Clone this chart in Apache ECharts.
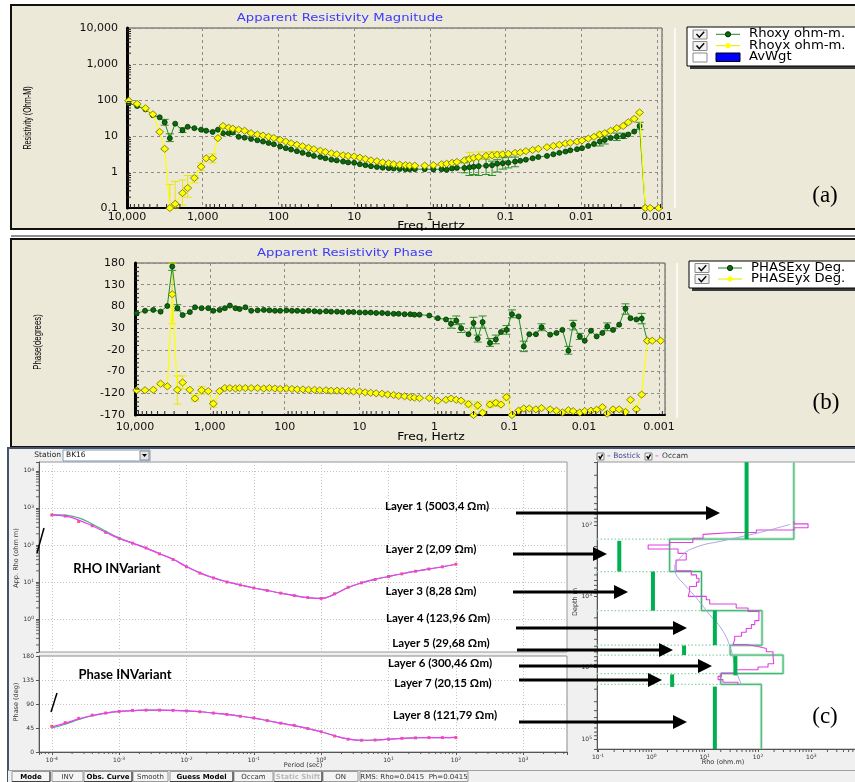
<!DOCTYPE html>
<html>
<head>
<meta charset="UTF-8">
<title>BK16 - apparent resistivity, phase and 1D inversion</title>
<script src="https://cdn.jsdelivr.net/npm/echarts@6/dist/echarts.min.js"></script>
</head>
<body style="margin: 0; background: #fff">
<div id="main" style="width: 855px; height: 782px"></div>
<script>
// ---- (a) / (b) field curves, frequency in Hz ----
var freqHz = [9500, 7350, 5700, 4550, 3700, 3180, 2720, 2310, 1850, 1580, 1290, 1050, 900, 740, 630, 540, 455, 400, 335, 280,
  230, 190, 160, 135, 115, 95, 80, 68, 57, 48, 40, 34, 28, 24, 20, 17, 14, 12, 10, 8.4, 7.1, 6.0, 5.0, 4.2, 3.5, 3.0, 2.5, 2.1, 1.85,
  1.58, 1.17, 0.90, 0.70, 0.60, 0.51, 0.44, 0.35, 0.30, 0.264, 0.227, 0.181, 0.151, 0.129, 0.109, 0.092, 0.075, 0.064, 0.054, 0.044,
  0.037, 0.0284, 0.0234, 0.0195, 0.0162, 0.0140, 0.0114, 0.0098, 0.0081, 0.0068, 0.0057, 0.0049, 0.0041, 0.0034, 0.0028, 0.0024,
  0.0020, 0.0017, 0.00143, 0.00123, 0.00095];

var rhoXY = [81, 68, 55, 38, 33, 24, 8.7, 22, 14.5, 18, 16.5, 15, 14, 13, 15, 12, 12, 12.5, 9.5, 9,
  8.3, 7.6, 7.0, 6.4, 5.9, 5.1, 4.6, 4.2, 3.8, 3.4, 3.1, 2.8, 2.6, 2.4, 2.2, 2.1, 1.95, 1.85, 1.8, 1.65, 1.55, 1.45, 1.38, 1.32, 1.28, 1.25, 1.22, 1.2, 1.2,
  1.2, 1.2, 1.18, 1.2, 1.15, 1.25, 1.3, 1.3, 1.35, 1.4, 1.45, 1.5, 1.55, 1.7, 1.75, 1.8, 1.95, 2.05, 2.2, 2.4,
  2.6, 2.8, 3.1, 3.4, 3.7, 4.0, 4.3, 4.6, 5.3, 6.0, 7.0, 7.8, 8.8, 9.5, 10, 11, 13.3, 19, 0.1, null, null];

var rhoYX = [96, 78, 59, 40, 13, 4.4, 0.1, 0.13, 0.26, 0.36, 0.68, 1.4, 2.4, 2.4, 8.7, 19, 17, 16, 15, 14,
  12, 11, 10.3, 9.5, 8.8, 7.8, 7.0, 6.3, 5.7, 5.2, 4.7, 4.3, 3.9, 3.6, 3.3, 3.1, 2.9, 2.8, 2.7, 2.5, 2.3, 2.1, 2.0, 1.85, 1.75, 1.65, 1.6, 1.55, 1.5,
  1.5, 1.5, 1.55, 1.65, 1.7, 1.8, 1.9, 2.1, 2.3, 2.5, 2.6, 2.8, 2.9, 3.0, 3.1, 3.2, 3.4, 3.5, 3.8, 4.1,
  4.4, 4.9, 5.3, 5.7, 6.2, 6.5, 7.0, 7.5, 8.5, 9.5, 11, 12, 14, 16.5, 19, 24, 30, 45, 0.1, 0.1, 0.1];

var phaseXY = [64, 70, 72, 68, 81, 172, 76, 60, 67, 78, 76, 76, 70, 72, 76, 82, 76, 74, 78, 70,
  71, 72, 71, 70, 70, 71, 70, 70, 69, 70, 69, 68, 69, 68, 68, 67, 67, 67, 66, 66, 66, 65, 65, 64, 63, 63, 62, 62, 61,
  61, 59, 53, 50, 40, 47, 30, 16, 42, 6, 44, -4, 4, 21, 26, 62, 57, -12, 16, 16,
  32, 15, 19, 26, -22, 38, 11, 1, 24, 11, 19, 34, 26, 38, 75, 53, 50, 52, 1, null, null];

var phaseYX = [-113, -113, -112, -98, -104, 108, -112, -95, -112, -132, -113, -115, -144, -115, -108, -108, -109, -108, -108, -108,
  -108, -109, -108, -109, -110, -109, -110, -111, -111, -112, -112, -113, -113, -114, -114, -115, -115, -116, -116, -118, -119, -120, -121, -123, -124, -126, -127, -129, -130,
  -131, -131, -137, -135, -132, -135, -137, -145, -170, -148, -165, -146, -142, -146, -129, -170, -160, -155, -155, -157,
  -154, -157, -160, -164, -159, -161, -164, -161, -160, -158, -152, -167, -157, -157, -163, -135, -157, -123, 1, 1, 1];

// error bars: [freq, low, high]
var rhoXYErr = [[3180, 20, 29], [2720, 7, 11.5], [1850, 12.5, 17], [0.35, 0.95, 1.8], [0.30, 0.8, 2.6], [0.264, 0.85, 2.4],
  [0.227, 0.8, 2.4], [0.181, 0.85, 2.3], [0.151, 0.8, 2.0], [0.129, 1.0, 2.2], [0.109, 1.2, 2.5], [0.092, 1.3, 2.6],
  [0.075, 1.4, 2.6], [0.0057, 5.3, 9.5], [0.0049, 6, 10], [0.0034, 7.5, 12], [0.0028, 8.5, 12], [0.0017, 15, 24]];
var rhoYXErr = [[2720, 0.1, 0.45], [2310, 0.1, 0.55], [1850, 0.12, 0.6], [1580, 0.2, 0.8], [1290, 0.5, 0.8], [1050, 1.1, 1.8],
  [740, 1.8, 3.2], [0.30, 2.0, 3.5], [0.227, 2.2, 3.6], [0.181, 2.4, 3.6], [0.151, 2.5, 3.7], [0.129, 2.6, 3.7], [0.0057, 9, 13]];
var phaseXYErr = [[3180, 163, 180], [2720, 70, 84], [0.60, 30, 52], [0.51, 38, 58], [0.44, 20, 40], [0.30, 30, 55],
  [0.264, -2, 14], [0.227, 30, 58], [0.181, -12, 6], [0.151, -6, 14], [0.109, 16, 36], [0.092, 54, 72], [0.064, -24, 0],
  [0.037, 24, 40], [0.0162, -30, -12], [0.0140, 26, 48], [0.0114, 4, 18], [0.0049, 24, 42], [0.0028, 62, 86], [0.0017, 40, 64]];
var phaseYXErr = [[3180, 40, 180], [2720, -145, -80], [2310, -110, -80], [1580, -138, -125], [1290, -122, -104], [900, -152, -136],
  [0.35, -152, -138], [0.264, -156, -140], [0.181, -152, -138], [0.151, -150, -136], [0.109, -136, -122]];

// ---- (c) invariant curves, period in seconds ----
var periodSec = [1e-4, 1.58e-4, 2.51e-4, 3.98e-4, 6.31e-4, 1e-3, 1.58e-3, 2.51e-3, 3.98e-3, 6.31e-3, 0.01, 0.0158, 0.0251, 0.0398, 0.0631,
  0.1, 0.158, 0.251, 0.398, 0.631, 1, 1.58, 2.51, 3.98, 6.31, 10, 15.8, 25.1, 39.8, 63.1, 100];
var rhoInvObs = [646, 603, 430, 331, 219, 151, 112, 83, 57.5, 40.7, 25.7, 17.4, 12.9, 10, 8.3, 6.9, 5.9, 5.0, 4.3, 3.8, 3.6, 4.8, 7.2, 9.5, 11.7, 14.1, 16.6, 19.5, 22.4, 25.7, 30.2];
var rhoInvOccam = [640, 600, 470, 330, 220, 150, 112, 82, 58, 41, 26, 17.6, 12.9, 10.1, 8.3, 6.9, 5.9, 5.0, 4.3, 3.8, 3.6, 4.7, 7.1, 9.5, 11.8, 14.1, 16.7, 19.5, 22.5, 25.8, 30.2];
var rhoInvLayer = [660, 640, 540, 370, 235, 155, 113, 83, 58, 41, 26, 17.6, 12.9, 10.1, 8.3, 6.9, 5.9, 5.0, 4.3, 3.8, 3.6, 4.7, 7.1, 9.5, 11.8, 14.1, 16.7, 19.5, 22.5, 25.8, 30.2];
var phaseInvObs = [48, 55, 63, 69, 73, 76, 78, 78.5, 78.5, 78, 77, 75.5, 73, 70.5, 67, 64, 59, 54, 50, 44, 38, 30, 24, 22, 22.5, 24, 25.5, 26.5, 27, 27, 27];
var phaseInvOccam = [47, 54, 62, 68.5, 73, 76, 77.5, 78.5, 78.5, 78, 77, 75.5, 73, 70.5, 67, 63.5, 59, 54, 49.5, 44, 38, 30.5, 24.5, 22, 22.5, 24, 25.5, 26.5, 27, 27, 27.5];
var phaseInvLayer = [45, 52, 61, 68, 73, 76, 77.5, 78.5, 78.5, 78, 77, 75.5, 73, 70.5, 67, 63.5, 59, 54, 49.5, 44, 38, 30.5, 24.5, 22, 22.5, 24, 25.5, 26.5, 27, 27, 27.5];

// ---- (c) depth models ----
var layerRho = [470, 2.2, 8.7, 119, 30, 295, 20, 115];
var layerBase = [157, 448, 1585, 4830, 6650, 12100, 17100];
var pickRho = [61, 0.25, 1.07, 15.5, 4.1, 37.6, 2.45, 15.5];
var pickTop = [13.1, 166, 448, 1585, 4880, 6870, 12400, 18400];
var pickBase = [157, 448, 1585, 4830, 6650, 12800, 18600, 138000];
var occamTop = 88;
var occamRho = [473, 866, 473, 93, 34, 9.3, 6.0, 2.2, 0.87, 3.16, 4.5, 2.9, 5.6, 7.0, 7.8, 7.0, 5.2, 4.9, 10.7, 12.4, 39, 65, 104,
  87, 75, 60, 49, 36.5, 34, 60, 100, 143, 191, 197, 154, 100, 39, 20.5, 17.8, 22, 42];
var occamBase = [96, 109, 117, 127, 135, 153, 175, 190, 216, 249, 308, 438, 499, 555, 631, 725, 851, 1000, 1114, 1280, 1455, 1620, 2187,
  2485, 2825, 3178, 3614, 4067, 4722, 5036, 5370, 5980, 6870, 8790, 9790, 10670, 11870, 13210, 14690, 16020, 17460];
var bostickRho = [393, 107, 25.5, 6.0, 3.4, 2.74, 2.94, 4.2, 7.0, 12.4, 22, 31.6, 39, 48.7];
var bostickDepth = [98, 127, 162, 212, 292, 403, 499, 687, 1054, 1803, 3076, 5848, 11140, 17100];
var layerLabels = ['Layer 1 (5003,4 Ωm)', 'Layer 2 (2,09 Ωm)', 'Layer 3 (8,28 Ωm)', 'Layer 4 (123,96 Ωm)',
  'Layer 5 (29,68 Ωm)', 'Layer 6 (300,46 Ωm)', 'Layer 7 (20,15 Ωm)', 'Layer 8 (121,79 Ωm)'];

var chart = echarts.init(document.getElementById('main'));

function pairs(xs, ys) {
  var out = [];
  xs.forEach(function (x, i) { if (ys[i] != null) out.push([x, ys[i]]); });
  return out;
}
function isDecade(v) {
  var l = Math.log10(v);
  return Math.abs(l - Math.round(l)) < 1e-6;
}
function commaLabel(v) {
  if (!isDecade(v)) return '';
  if (v >= 1) return String(Math.round(v)).replace(/\B(?=(\d{3})+(?!\d))/g, ',');
  return String(Number(v.toPrecision(1)));
}
function expLabel(v) {
  if (!isDecade(v)) return '';
  return '{m|10}{e|' + Math.round(Math.log10(v)) + '}';
}
var expRich = {
  m: { fontSize: 6, color: '#333', fontFamily: 'DejaVu Sans' },
  e: { fontSize: 4.5, color: '#333', fontFamily: 'DejaVu Sans', verticalAlign: 'top', padding: [0, 0, 3, 0] }
};
function minorVals(lo, hi) {
  var out = [];
  for (var d = Math.floor(Math.log10(lo)); d <= Math.ceil(Math.log10(hi)); d++) {
    for (var k = 2; k <= 9; k++) {
      var v = k * Math.pow(10, d);
      if (v > lo && v < hi) out.push(v);
    }
  }
  return out;
}
function stepProfile(top, rhos, bases, bottom) {
  var pts = [], d0 = top;
  rhos.forEach(function (r, i) {
    var d1 = i < bases.length ? bases[i] : bottom;
    pts.push([r, d0], [r, d1]);
    d0 = d1;
  });
  return pts;
}

// error bars drawn through the axes
function errSeries(idx, list, color) {
  return {
    type: 'custom', xAxisIndex: idx, yAxisIndex: idx, silent: true, z: 3,
    data: list, encode: { x: 0, y: [1, 2] },
    renderItem: function (params, api) {
      var lo = api.coord([api.value(0), api.value(1)]);
      var hi = api.coord([api.value(0), api.value(2)]);
      var st = { stroke: color, lineWidth: 1 };
      return { type: 'group', children: [
        { type: 'line', shape: { x1: lo[0], y1: lo[1], x2: hi[0], y2: hi[1] }, style: st },
        { type: 'line', shape: { x1: lo[0] - 4, y1: lo[1], x2: lo[0] + 4, y2: lo[1] }, style: st },
        { type: 'line', shape: { x1: hi[0] - 4, y1: hi[1], x2: hi[0] + 4, y2: hi[1] }, style: st }
      ] };
    }
  };
}
// small minor ticks along a grid edge
function tickSeries(idx, vals, dim, other, len, color) {
  return {
    type: 'custom', xAxisIndex: idx, yAxisIndex: idx, silent: true, z: 6,
    data: vals.map(function (v) { return dim === 'x' ? [v, other] : [other, v]; }),
    renderItem: function (params, api) {
      var p = api.coord([api.value(0), api.value(1)]);
      var cs = params.coordSys;
      if (dim === 'x') {
        var by = cs.y + cs.height;
        return { type: 'line', shape: { x1: p[0], y1: by, x2: p[0], y2: by - len }, style: { stroke: color, lineWidth: 1 } };
      }
      return { type: 'line', shape: { x1: cs.x, y1: p[1], x2: cs.x + len, y2: p[1] }, style: { stroke: color, lineWidth: 1 } };
    }
  };
}

var axisFont = 'DejaVu Sans';
var dashGrid = { show: true, lineStyle: { color: '#8c8c8c', type: [3, 3], width: 1 } };
var dotGrid = { show: true, lineStyle: { color: '#c2c2c2', type: [1, 2], width: 1 } };
var smallLine = { show: true, onZero: false, lineStyle: { color: '#555', width: 1 } };
var fLo = [0.00086, 0.00083];
var tMin = Math.pow(10, -4.19), tMax = Math.pow(10, 3.65);
var rMin = Math.pow(10, -1.02), rMax = Math.pow(10, 4.1);
var dMin = Math.pow(10, 1.115), dMax = Math.pow(10, 5.14);
var bMin = Math.pow(10, -0.89), bMax = Math.pow(10, 4.24);

var phaseMinor = [];
for (var p = -160; p < 180; p += 10) { if ((p + 170) % 50 !== 0) phaseMinor.push(p); }

var gridBase = { show: true, outerBoundsMode: 'none', containLabel: false };
var grids = [
  Object.assign({ left: 127, top: 28, width: 535, height: 180, backgroundColor: 'transparent', borderColor: '#555', borderWidth: 1 }, gridBase),
  Object.assign({ left: 135, top: 263, width: 530, height: 152, backgroundColor: 'transparent', borderColor: '#555', borderWidth: 1 }, gridBase),
  Object.assign({ left: 39, top: 462, width: 528, height: 190, backgroundColor: '#fff', borderColor: '#9a9a9a', borderWidth: 1 }, gridBase),
  Object.assign({ left: 39, top: 656, width: 528, height: 96, backgroundColor: '#fff', borderColor: '#8a8a8a', borderWidth: 1 }, gridBase),
  Object.assign({ left: 597, top: 462, width: 273, height: 287, backgroundColor: '#fff', borderColor: '#9a9a9a', borderWidth: 1 }, gridBase)
];

var xAxes = [
  { gridIndex: 0, type: 'log', inverse: true, min: fLo[0], max: 10000,
    axisLine: { show: true, onZero: false, lineStyle: { color: '#000', width: 2 } }, axisTick: { show: false },
    axisLabel: { formatter: commaLabel, fontSize: 11, color: '#111', fontFamily: axisFont, margin: 4 }, splitLine: dashGrid },
  { gridIndex: 1, type: 'log', inverse: true, min: fLo[1], max: 10000,
    axisLine: { show: true, onZero: false, lineStyle: { color: '#000', width: 2 } }, axisTick: { show: false },
    axisLabel: { formatter: commaLabel, fontSize: 11, color: '#111', fontFamily: axisFont, margin: 7 }, splitLine: dashGrid },
  { gridIndex: 2, type: 'log', min: tMin, max: tMax, axisLine: { show: false, onZero: false }, axisTick: { show: false },
    axisLabel: { show: false }, splitLine: dotGrid },
  { gridIndex: 3, type: 'log', min: tMin, max: tMax, axisLine: smallLine, axisTick: { show: true, length: 3, lineStyle: { color: '#555' } },
    axisLabel: { formatter: expLabel, rich: expRich, margin: 4 }, splitLine: dotGrid },
  { gridIndex: 4, type: 'log', min: rMin, max: rMax, axisLine: smallLine, axisTick: { show: true, length: 3, lineStyle: { color: '#555' } },
    axisLabel: { formatter: expLabel, rich: expRich, margin: 4 }, splitLine: { show: false } }
];
var yAxes = [
  { gridIndex: 0, type: 'log', min: 0.1, max: 10000,
    axisLine: { show: true, onZero: false, lineStyle: { color: '#000', width: 3 } }, axisTick: { show: false },
    axisLabel: { formatter: commaLabel, fontSize: 11, color: '#111', fontFamily: axisFont, margin: 9 }, splitLine: dashGrid },
  { gridIndex: 1, type: 'value', min: -170, max: 180, interval: 50,
    axisLine: { show: true, onZero: false, lineStyle: { color: '#000', width: 3 } }, axisTick: { show: false },
    axisLabel: { fontSize: 11, color: '#111', fontFamily: axisFont, margin: 10 }, splitLine: dashGrid },
  { gridIndex: 2, type: 'log', min: bMin, max: bMax, axisLine: smallLine, axisTick: { show: true, length: 3, lineStyle: { color: '#555' } },
    axisLabel: { formatter: expLabel, rich: expRich, margin: 5 }, splitLine: dotGrid },
  { gridIndex: 3, type: 'value', min: 0, max: 180, interval: 45, axisLine: smallLine,
    axisTick: { show: true, length: 3, lineStyle: { color: '#555' } },
    axisLabel: { fontSize: 6, color: '#333', fontFamily: axisFont, margin: 5 }, splitLine: dotGrid },
  { gridIndex: 4, type: 'log', inverse: true, min: dMin, max: dMax, axisLine: smallLine,
    axisTick: { show: true, length: 3, lineStyle: { color: '#555' } },
    axisLabel: { formatter: expLabel, rich: expRich, margin: 5 }, splitLine: { show: false } }
];

var greenItem = { color: '#0b6a0b', borderColor: '#033303', borderWidth: 0.8 };
var yellowItem = { color: '#ffff00', borderColor: '#6b6b00', borderWidth: 0.8 };

var series = [
  // (a)
  errSeries(0, rhoXYErr, '#2c8f2c'),
  errSeries(0, rhoYXErr, '#e8e800'),
  tickSeries(0, minorVals(fLo[0], 10000), 'x', 1, 4, '#222'),
  tickSeries(0, minorVals(0.1, 10000), 'y', 10000, 4, '#222'),
  { type: 'line', xAxisIndex: 0, yAxisIndex: 0, data: pairs(freqHz, rhoXY), symbol: 'circle', symbolSize: 5,
    lineStyle: { color: '#228b22', width: 1 }, itemStyle: greenItem, z: 4 },
  { type: 'line', xAxisIndex: 0, yAxisIndex: 0, data: pairs(freqHz, rhoYX), symbol: 'diamond', symbolSize: [8, 7],
    lineStyle: { color: '#ffff00', width: 1.2 }, itemStyle: yellowItem, z: 5 },
  // (b)
  errSeries(1, phaseXYErr, '#2c8f2c'),
  errSeries(1, phaseYXErr, '#e8e800'),
  tickSeries(1, minorVals(fLo[1], 10000), 'x', 0, 4, '#222'),
  tickSeries(1, phaseMinor, 'y', 10000, 4, '#222'),
  { type: 'line', xAxisIndex: 1, yAxisIndex: 1, data: pairs(freqHz, phaseXY), symbol: 'circle', symbolSize: 5,
    lineStyle: { color: '#228b22', width: 1 }, itemStyle: greenItem, z: 4 },
  { type: 'line', xAxisIndex: 1, yAxisIndex: 1, data: pairs(freqHz, phaseYX), symbol: 'diamond', symbolSize: [8, 7],
    lineStyle: { color: '#ffff00', width: 1.2 }, itemStyle: yellowItem, z: 5 },
  // (c) rho invariant
  tickSeries(2, minorVals(bMin, bMax), 'y', 1, -3, '#666'),
  { type: 'line', xAxisIndex: 2, yAxisIndex: 2, data: pairs(periodSec, rhoInvLayer), smooth: true, symbol: 'none',
    lineStyle: { color: '#3cb878', width: 1.2 } },
  { type: 'line', xAxisIndex: 2, yAxisIndex: 2, data: pairs(periodSec, rhoInvOccam), smooth: true, symbol: 'none',
    lineStyle: { color: '#ff33ff', width: 1.2 } },
  { type: 'scatter', xAxisIndex: 2, yAxisIndex: 2, data: pairs(periodSec, rhoInvObs), symbol: 'rect', symbolSize: 3,
    itemStyle: { color: '#ff2a55' } },
  // (c) phase invariant
  tickSeries(3, minorVals(tMin, tMax), 'x', 90, -2, '#555'),
  { type: 'line', xAxisIndex: 3, yAxisIndex: 3, data: pairs(periodSec, phaseInvLayer), smooth: true, symbol: 'none',
    lineStyle: { color: '#3cb878', width: 1.2 } },
  { type: 'line', xAxisIndex: 3, yAxisIndex: 3, data: pairs(periodSec, phaseInvOccam), smooth: true, symbol: 'none',
    lineStyle: { color: '#ff33ff', width: 1.2 } },
  { type: 'scatter', xAxisIndex: 3, yAxisIndex: 3, data: pairs(periodSec, phaseInvObs), symbol: 'rect', symbolSize: 3,
    itemStyle: { color: '#ff2a55' } },
  // (c) depth models
  tickSeries(4, minorVals(rMin, rMax), 'x', 100, -3, '#555'),
  tickSeries(4, minorVals(dMin, dMax), 'y', 1, -3, '#555'),
  { type: 'custom', xAxisIndex: 4, yAxisIndex: 4, silent: true, z: 2,
    data: layerBase.map(function (d, i) { return [Math.min(layerRho[i], layerRho[i + 1]), d]; }),
    renderItem: function (params, api) {
      var p = api.coord([api.value(0), api.value(1)]);
      return { type: 'line', shape: { x1: params.coordSys.x, y1: p[1], x2: p[0], y2: p[1] },
        style: { stroke: '#8fd3a8', lineWidth: 1.2, lineDash: [1.5, 2] } };
    } },
  { type: 'line', xAxisIndex: 4, yAxisIndex: 4, data: stepProfile(dMin, layerRho, layerBase, dMax), symbol: 'none',
    lineStyle: { color: '#c3ead2', width: 3 }, z: 2 },
  { type: 'line', xAxisIndex: 4, yAxisIndex: 4, data: stepProfile(dMin, layerRho, layerBase, dMax), symbol: 'none',
    lineStyle: { color: '#35b066', width: 1 }, z: 3 },
  { type: 'line', xAxisIndex: 4, yAxisIndex: 4, data: stepProfile(occamTop, occamRho, occamBase, 0), symbol: 'none',
    lineStyle: { color: '#e23fe2', width: 1.1 }, z: 4 },
  { type: 'line', xAxisIndex: 4, yAxisIndex: 4, data: pairs(bostickRho, bostickDepth), smooth: true, symbol: 'none',
    lineStyle: { color: '#a7a7e4', width: 1 }, z: 4 },
  { type: 'custom', xAxisIndex: 4, yAxisIndex: 4, silent: true, z: 5,
    data: pickRho.map(function (r, i) { return [r, pickTop[i], pickBase[i]]; }), encode: { x: 0, y: [1, 2] },
    renderItem: function (params, api) {
      var a = api.coord([api.value(0), api.value(1)]);
      var b = api.coord([api.value(0), api.value(2)]);
      return { type: 'line', shape: { x1: a[0], y1: a[1], x2: b[0], y2: b[1] }, style: { stroke: '#00b050', lineWidth: 4 } };
    } }
];
series.forEach(function (s) { s.silent = true; });

// ---- frames, labels, legends and annotations ----
var g = [];
function gRect(x, y, w, h, fill, stroke, lw, z) {
  g.push({ type: 'rect', silent: true, z: z == null ? -100 : z, shape: { x: x, y: y, width: w, height: h },
    style: { fill: fill || 'none', stroke: stroke || 'none', lineWidth: lw || 0 } });
}
function gLine(x1, y1, x2, y2, color, lw, z) {
  g.push({ type: 'line', silent: true, z: z == null ? 50 : z, shape: { x1: x1, y1: y1, x2: x2, y2: y2 },
    style: { stroke: color, lineWidth: lw || 1 } });
}
function gPoly(pts, fill, z) {
  g.push({ type: 'polygon', silent: true, z: z == null ? 60 : z, shape: { points: pts }, style: { fill: fill } });
}
function gPolyline(pts, stroke, lw, z) {
  g.push({ type: 'polyline', silent: true, z: z == null ? 60 : z, shape: { points: pts }, style: { stroke: stroke, lineWidth: lw, fill: 'none' } });
}
function gText(x, y, str, o) {
  o = o || {};
  var al = o.align || 'left', va = o.valign || 'middle';
  g.push({ type: 'text', silent: true, z: o.z == null ? 60 : o.z, x: x, y: y, rotation: o.rot || 0, scaleX: o.sx || 1,
    style: { text: str, fill: o.color || '#000', fontSize: o.size || 11, fontFamily: o.family || 'DejaVu Sans, sans-serif',
      fontWeight: o.weight || 'normal', align: al, verticalAlign: va, textAlign: al, textVerticalAlign: va } });
}
function checkBox(x, y, w, h, checked) {
  gRect(x, y, w, h, checked ? '#f2f2f2' : '#fff', '#8a8a8a', 1, 55);
  if (checked) gPolyline([[x + w * 0.25, y + h * 0.45], [x + w * 0.45, y + h * 0.8], [x + w * 0.8, y + h * 0.2]], '#000', 1.4, 56);
}
var narrow = 'Liberation Sans, Arial, sans-serif';

// panel backgrounds
gRect(11, 5, 850, 224, '#ece9d8', '#111', 2);
gRect(11, 239, 850, 208, '#ece9d8', '#111', 2);
gLine(11, 236, 855, 236, '#222', 1.2, -90);
gRect(8, 448, 860, 340, '#f0f0f0', '#44546a', 2);

// (a)
gText(340, 18.5, 'Apparent Resistivity Magnitude', { color: '#3a3aff', size: 11, align: 'center', sx: 1.2 });
gText(28, 118, 'Resistivity (Ohm-M)', { rot: Math.PI / 2, align: 'center', size: 10, family: narrow, sx: 0.72 });
gText(431, 226, 'Freq, Hertz', { align: 'center', size: 11, sx: 1.12 });
gLine(675, 28, 675, 208, '#fff', 1.5);
gRect(690, 30, 172, 39, '#3a3a3a', null, 0, 40);
gRect(687, 27, 172, 39, '#fff', '#000', 1, 41);
checkBox(693, 30, 14, 9, true);
checkBox(693, 41.5, 14, 9, true);
checkBox(693, 53, 14, 9, false);
gLine(716, 34.3, 740, 34.3, '#228b22', 1, 55);
g.push({ type: 'circle', silent: true, z: 56, shape: { cx: 728, cy: 34.3, r: 2.6 }, style: { fill: '#0b6a0b', stroke: '#033303' } });
gLine(716, 45.7, 740, 45.7, '#e6e600', 1, 55);
gPoly([[728, 42.7], [732, 45.7], [728, 48.7], [724, 45.7]], '#ffff00', 56);
gRect(716, 53, 24, 8.5, '#0000ff', '#000', 1, 55);
gText(749, 34.3, 'Rhoxy ohm-m.', { size: 12, sx: 1.1 });
gText(749, 45.7, 'Rhoyx ohm-m.', { size: 12, sx: 1.1 });
gText(749, 57.3, 'AvWgt', { size: 12, sx: 1.1 });
gText(825, 196, '(a)', { align: 'center', size: 23, family: 'Liberation Serif, serif' });

// (b)
gText(345, 253.5, 'Apparent Resistivity Phase', { color: '#3a3aff', size: 11, align: 'center', sx: 1.2 });
gText(38, 342, 'Phase(degrees)', { rot: Math.PI / 2, align: 'center', size: 10, family: narrow, sx: 0.78 });
gText(431, 437, 'Freq, Hertz', { align: 'center', size: 11, sx: 1.12 });
gLine(677, 263, 677, 418, '#fff', 1.5);
gRect(692, 264, 170, 27, '#3a3a3a', null, 0, 40);
gRect(689, 261, 170, 27, '#fff', '#000', 1, 41);
checkBox(695, 263.5, 14, 9, true);
checkBox(695, 274.5, 14, 9, true);
gLine(718, 268, 742, 268, '#228b22', 1, 55);
g.push({ type: 'circle', silent: true, z: 56, shape: { cx: 730, cy: 268, r: 2.6 }, style: { fill: '#0b6a0b', stroke: '#033303' } });
gLine(718, 279, 742, 279, '#e6e600', 1, 55);
gPoly([[730, 276], [734, 279], [730, 282], [726, 279]], '#ffff00', 56);
gText(751, 268, 'PHASExy Deg.', { size: 12, sx: 1.1 });
gText(751, 279, 'PHASEyx Deg.', { size: 12, sx: 1.1 });
gText(826, 403, '(b)', { align: 'center', size: 23, family: 'Liberation Serif, serif' });

// (c) header and axis names
gText(61, 455.5, 'Station', { align: 'right', size: 7.5, color: '#222' });
gRect(63, 450, 87, 11, '#fff', '#7f9db9', 1, 50);
gText(66, 455.5, 'BK16', { size: 7.5, color: '#111' });
gRect(140, 451, 9, 9, '#e4e4e4', '#8a8a8a', 1, 51);
gPoly([[142, 454], [147, 454], [144.5, 457]], '#000', 52);
checkBox(597, 453, 7, 7, true);
gText(607, 456.5, '– Bostick', { size: 7.5, color: '#4a4a8a' });
checkBox(645, 453, 7, 7, true);
gText(655, 456.5, '–', { size: 7.5, color: '#e000e0' });
gText(662, 456.5, 'Occam', { size: 7.5, color: '#333' });
gText(16, 558, 'App. Rho (ohm m)', { rot: Math.PI / 2, align: 'center', size: 6.5, color: '#333' });
gText(16, 702, 'Phase (deg)', { rot: Math.PI / 2, align: 'center', size: 6.5, color: '#333' });
gText(303, 765, 'Period (sec)', { align: 'center', size: 6.5, color: '#333' });
gText(575, 602, 'Depth m', { rot: Math.PI / 2, align: 'center', size: 6.5, color: '#333' });
gText(723, 762, 'Rho (ohm.m)', { align: 'center', size: 6.5, color: '#333' });
gText(117, 569, 'RHO INVariant', { align: 'center', size: 13, weight: 'bold', family: 'Lato, sans-serif' });
gText(125, 675, 'Phase INVariant', { align: 'center', size: 13, weight: 'bold', family: 'Lato, sans-serif' });
gLine(37, 553, 44, 528, '#000', 1.5, 60);
gLine(51, 712, 57, 693, '#000', 1.5, 60);
gText(825, 717, '(c)', { align: 'center', size: 23, family: 'Liberation Serif, serif' });

// layer labels and arrows
var labelPos = [[437, 506], [431, 549], [431, 591], [438, 618], [441, 643], [440, 663], [443, 683], [445, 715]];
var arrowPos = [[513, 516, 720], [554, 513, 607], [592, 513, 628], [628, 516, 687], [650, 517, 673], [666, 519, 712], [680, 519, 662], [722, 519, 687]];
layerLabels.forEach(function (t, i) {
  gText(labelPos[i][0], labelPos[i][1], t, { align: 'center', size: 11.5, weight: 'bold', family: 'Lato, sans-serif', z: 70 });
  var a = arrowPos[i];
  gLine(a[1], a[0], a[2] - 12, a[0], '#000', 3, 70);
  gPoly([[a[2] - 14, a[0] - 7], [a[2], a[0]], [a[2] - 14, a[0] + 7]], '#000', 70);
});

// status bar
gRect(8, 770, 860, 14, '#f0f0f0', null, 0, 20);
gLine(8, 770.5, 855, 770.5, '#a0a0a0', 1, 21);
var buttons = [
  ['Mode', 12, 50, 'bold', '#000', true], ['INV', 52, 83, 'normal', '#333', false], ['Obs. Curve', 84, 132, 'bold', '#000', true],
  ['Smooth', 133, 168, 'normal', '#333', false], ['Guess Model', 170, 233, 'bold', '#000', true], ['Occam', 234, 273, 'normal', '#333', false],
  ['Static Shift', 274, 322, 'bold', '#b8b8b8', true], ['ON', 323, 358, 'normal', '#333', false], ['RMS: Rho=0.0415  Ph=0.0415', 360, 468, 'normal', '#333', false]
];
buttons.forEach(function (b) {
  gRect(b[1], 771.5, b[2] - b[1], 10, '#f4f4f4', '#9a9a9a', 1, 22);
  if (b[5]) {
    gLine(b[1], 781.5, b[2], 781.5, '#404040', 1.2, 23);
    gLine(b[2], 771.5, b[2], 781.5, '#404040', 1.2, 23);
  }
  gText((b[1] + b[2]) / 2, 777, b[0], { align: 'center', size: 7, weight: b[3], color: b[4], z: 24 });
});

chart.setOption({
  animation: false,
  textStyle: { fontFamily: 'DejaVu Sans' },
  grid: grids,
  xAxis: xAxes,
  yAxis: yAxes,
  series: series,
  graphic: { elements: g }
});
</script>
</body>
</html>
